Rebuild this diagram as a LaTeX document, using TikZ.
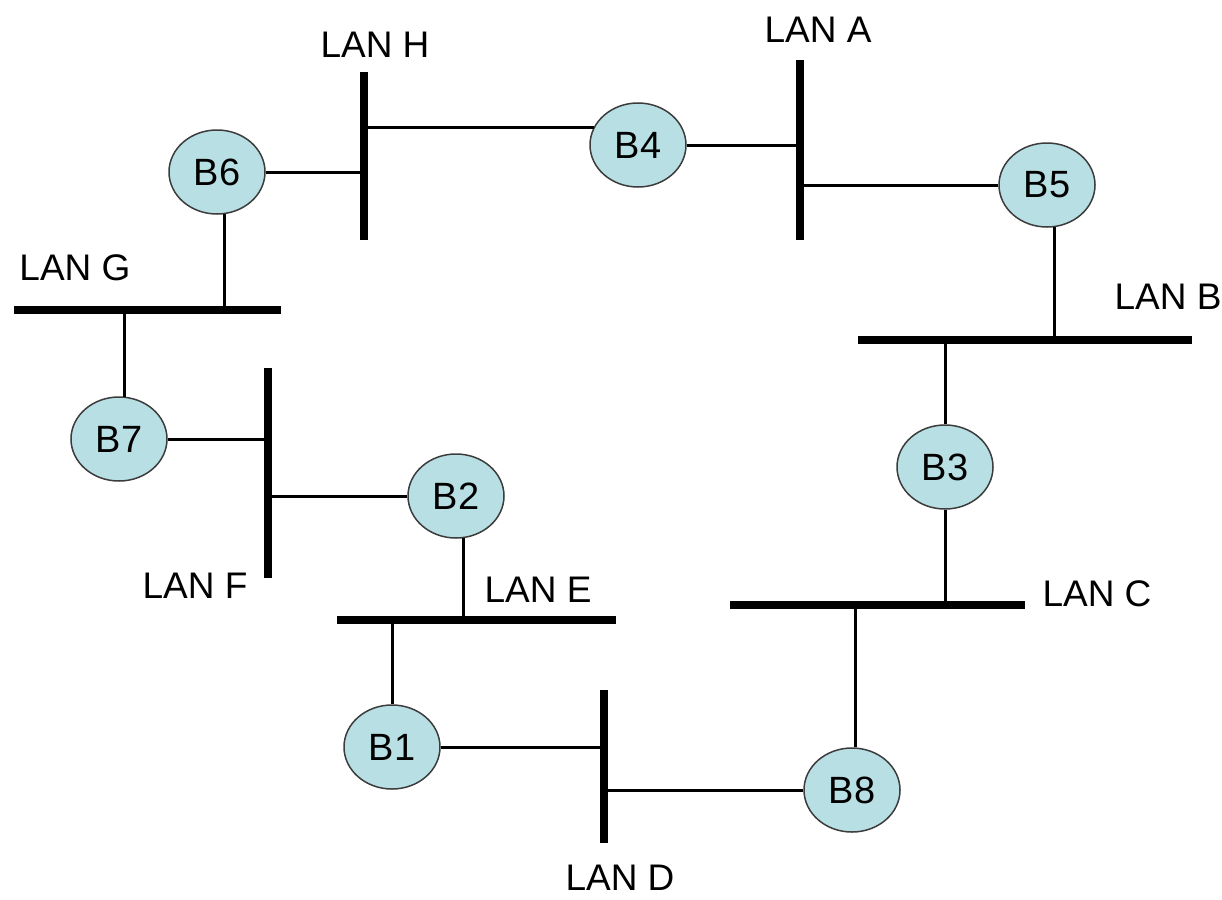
\documentclass[tikz,border=0pt]{standalone}
\usepackage{fontspec}
\setmainfont{Liberation Sans}
\usetikzlibrary{shapes.geometric}
\begin{document}
\begin{tikzpicture}[x=1pt,y=-1pt,
  bridge/.style={ellipse,draw=edgeColor,line width=1.5pt,fill=fillColor,minimum width=96pt,minimum height=84pt,inner sep=0pt,font=\fontsize{38}{40}\selectfont},
  bus/.style={draw=drawColor,line width=8.5pt},
  link/.style={draw=drawColor,line width=3pt},
  lanlabel/.style={inner sep=0pt,font=\fontsize{37}{40}\selectfont}]
\definecolor{fillColor}{RGB}{184,224,228}
\definecolor{edgeColor}{RGB}{60,60,60}
\definecolor{drawColor}{RGB}{0,0,0}
\path[use as bounding box,fill=white] (0,0) rectangle (1222,899);

% bus ends
\coordinate (hT) at (364, 72); \coordinate (hB) at (364,240);
\coordinate (aT) at (800, 60); \coordinate (aB) at (800,240);
\coordinate (bL) at (858,340); \coordinate (bR) at (1192,340);
\coordinate (cL) at (730,605); \coordinate (cR) at (1025,605);
\coordinate (dT) at (604,690); \coordinate (dB) at (604,843);
\coordinate (eL) at (337,620); \coordinate (eR) at (616,620);
\coordinate (fT) at (268,368); \coordinate (fB) at (268,578);
\coordinate (gL) at ( 14,310); \coordinate (gR) at (281,310);

\path[bus] (hT) -- (hB);
\path[bus] (aT) -- (aB);
\path[bus] (bL) -- (bR);
\path[bus] (cL) -- (cR);
\path[bus] (dT) -- (dB);
\path[bus] (eL) -- (eR);
\path[bus] (fT) -- (fB);
\path[bus] (gL) -- (gR);

% bridges
\node[bridge] (B1) at (392,747) {B1};
\node[bridge] (B2) at (456,496) {B2};
\node[bridge] (B3) at (945,467) {B3};
\node[bridge] (B4) at (638,145) {B4};
\node[bridge] (B5) at (1047,185) {B5};
\node[bridge] (B6) at (217,172) {B6};
\node[bridge] (B7) at (119,439) {B7};
\node[bridge] (B8) at (852,790) {B8};

% labels
\node[lanlabel] (labH) at (375, 45) {LAN H};
\node[lanlabel] (labA) at (818, 30) {LAN A};
\node[lanlabel] (labB) at (1168,297) {LAN B};
\node[lanlabel] (labC) at (1097,594) {LAN C};
\node[lanlabel] (labD) at (620,878) {LAN D};
\node[lanlabel] (labE) at (538,590) {LAN E};
\node[lanlabel] (labF) at (195,586) {LAN F};
\node[lanlabel] (labG) at ( 75,268) {LAN G};

% links
\path[link] (B6) -- (B6 -| hT);
\path[link] (B6.-80) -- (B6.-80 |- gL);
\path[link] (B4.158) -- (B4.158 -| hT);
\path[link] (B4) -- (B4 -| aT);
\path[link] (B5) -- (B5 -| aT);
\path[link] (B5.-80) -- (B5.-80 |- bL);
\path[link] (B3) -- (B3 |- bL);
\path[link] (B3) -- (B3 |- cL);
\path[link] (B8.85) -- (B8.85 |- cL);
\path[link] (B8) -- (B8 -| dT);
\path[link] (B1) -- (B1 -| dT);
\path[link] (B1) -- (B1 |- eL);
\path[link] (B2.-80) -- (B2.-80 |- eL);
\path[link] (B2) -- (B2 -| fT);
\path[link] (B7) -- (B7 -| fT);
\path[link] (B7.82) -- (B7.82 |- gL);
\end{tikzpicture}
\end{document}
